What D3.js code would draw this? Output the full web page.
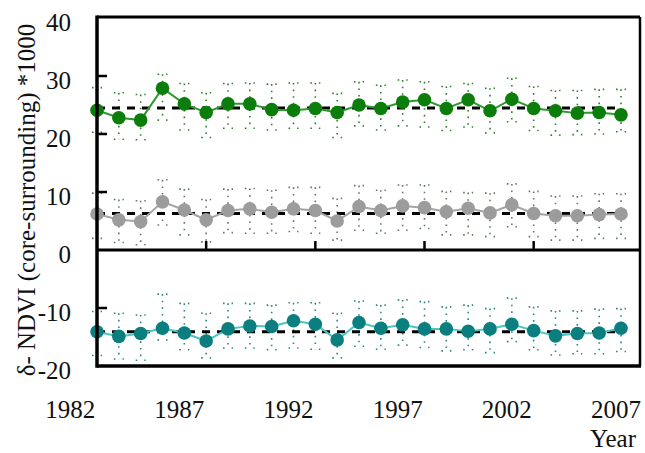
<!DOCTYPE html>
<html><head><meta charset="utf-8">
<script src="https://cdn.jsdelivr.net/npm/d3@7/dist/d3.min.js"></script>
<style>body{margin:0;background:#fff}svg{display:block}</style>
</head><body>
<svg id="c" width="645" height="453" font-family="'Liberation Serif', 'Times New Roman', 'DejaVu Serif', serif"></svg>
<script>
const years = d3.range(1983, 2008);
const yearLabels = [1982, 1987, 1992, 1997, 2002, 2007];
const yTicks = [-20, -10, 0, 10, 20, 30, 40];

const green = [24.1,22.8,22.4,27.9,25.2,23.7,25.2,25.2,24.2,24.1,24.4,23.7,25.0,24.4,25.5,25.9,24.4,25.9,24.0,26.0,24.4,24.0,23.6,23.7,23.3];
const greenHi = [28.0,27.1,26.8,30.3,28.7,27.1,28.7,28.8,28.6,28.8,28.8,27.0,29.0,28.4,29.3,29.0,28.2,28.7,27.9,29.6,28.2,27.5,27.5,27.7,27.7];
const greenLo = [20.3,19.1,19.0,22.4,20.7,19.4,21.0,21.0,20.7,21.0,21.0,19.4,21.4,20.7,21.4,21.2,20.6,21.2,20.2,22.1,20.6,19.8,19.9,20.0,20.4];
const greenMean = 24.5;

const gray = [6.2,5.2,4.9,8.3,6.9,5.2,6.8,7.1,6.5,7.1,6.8,5.0,7.5,6.8,7.6,7.3,6.6,7.2,6.4,7.8,6.3,5.9,5.9,6.1,6.2];
const grayHi = [9.8,8.7,8.5,12.1,10.5,8.7,10.5,10.6,10.3,10.8,10.8,8.9,11.1,10.3,11.2,11.2,10.1,9.9,9.8,11.4,10.1,9.3,9.3,9.7,9.7];
const grayLo = [2.0,1.3,0.9,4.3,2.6,1.4,3.0,2.9,2.9,3.2,2.9,1.7,3.4,2.9,3.4,3.7,2.6,2.6,2.3,4.0,2.3,1.7,1.7,2.0,2.0];
const grayMean = 6.3;

const teal = [-14.1,-14.9,-14.4,-13.5,-14.3,-15.7,-13.6,-13.1,-13.2,-12.2,-12.8,-15.5,-12.5,-13.5,-12.9,-13.6,-13.6,-14.0,-13.6,-12.8,-13.9,-14.8,-14.4,-14.3,-13.5];
const tealHi = [-10.6,-10.9,-11.2,-7.6,-9.2,-10.9,-9.2,-9.2,-9.5,-9.1,-9.1,-10.9,-8.8,-9.5,-8.6,-8.9,-9.8,-9.5,-10.1,-8.3,-9.8,-10.5,-10.5,-10.2,-10.1];
const tealLo = [-18.2,-18.8,-19.0,-15.5,-17.2,-18.6,-16.9,-16.9,-17.2,-16.9,-17.1,-18.6,-16.6,-17.1,-16.4,-16.8,-17.4,-17.2,-17.7,-15.8,-17.2,-18.1,-17.9,-17.9,-17.5];
const tealMean = -14.1;

const series = [
  {vals: green, hi: greenHi, lo: greenLo, mean: greenMean, dot: "#0a7d0a", line: "#2e9a2e", err: "#2f7f2f"},
  {vals: gray, hi: grayHi, lo: grayLo, mean: grayMean, dot: "#9c9c9c", line: "#a4a4a4", err: "#5f7a5f"},
  {vals: teal, hi: tealHi, lo: tealLo, mean: tealMean, dot: "#0b7f7f", line: "#49c6c2", err: "#2a8585"}
];

const svg = d3.select("#c");
const L = 97, R = 640, T = 17, B = 366;
const x = d3.scaleLinear().domain([1983, 2007]).range([97, 621]);
const y = d3.scaleLinear().domain([-20, 40]).range([366, 18]);

// error bars
series.forEach(s => {
  const g = svg.append("g");
  years.forEach((yr, i) => {
    const cx = x(yr);
    g.append("line").attr("x1", cx).attr("x2", cx).attr("y1", y(s.hi[i])).attr("y2", y(s.lo[i]))
      .attr("stroke", s.err).attr("stroke-width", 1.6).attr("stroke-dasharray", "1.6,5");
    [s.hi[i], s.lo[i]].forEach(v => {
      g.append("line").attr("x1", cx - 5).attr("x2", cx + 5).attr("y1", y(v)).attr("y2", y(v))
        .attr("stroke", s.err).attr("stroke-width", 1.6).attr("stroke-dasharray", "1.6,7");
    });
  });
});

// mean dashed lines
series.forEach(s => {
  svg.append("line").attr("x1", x(1983)).attr("x2", x(2007)).attr("y1", y(s.mean)).attr("y2", y(s.mean))
    .attr("stroke", "#000").attr("stroke-width", 3).attr("stroke-dasharray", "8,7");
});

// lines and points
const line = d3.line().x((d, i) => x(years[i])).y(d => y(d));
series.forEach(s => {
  svg.append("path").datum(s.vals).attr("d", line).attr("fill", "none")
    .attr("stroke", s.line).attr("stroke-width", 2);
  svg.append("g").selectAll("circle").data(s.vals).join("circle")
    .attr("cx", (d, i) => x(years[i])).attr("cy", d => y(d)).attr("r", 6.8).attr("fill", s.dot);
});

// frame
svg.append("line").attr("x1", L).attr("x2", R).attr("y1", T).attr("y2", T).attr("stroke", "#000").attr("stroke-width", 3);
svg.append("line").attr("x1", L).attr("x2", R + 1).attr("y1", B).attr("y2", B).attr("stroke", "#000").attr("stroke-width", 3.5);
svg.append("line").attr("x1", R).attr("x2", R).attr("y1", T).attr("y2", B).attr("stroke", "#000").attr("stroke-width", 2.5);
svg.append("line").attr("x1", L).attr("x2", L).attr("y1", T - 1.5).attr("y2", B + 1.7).attr("stroke", "#000").attr("stroke-width", 3.5);
svg.append("line").attr("x1", L).attr("x2", R).attr("y1", y(0)).attr("y2", y(0)).attr("stroke", "#000").attr("stroke-width", 3);

// y ticks (inside)
[30, 20, 10, -10].forEach(v => {
  svg.append("line").attr("x1", L).attr("x2", L + 10).attr("y1", y(v)).attr("y2", y(v)).attr("stroke", "#000").attr("stroke-width", 2.5);
});
// x ticks on zero line
[1988, 1993, 1998, 2003].forEach(yr => {
  svg.append("line").attr("x1", x(yr)).attr("x2", x(yr)).attr("y1", y(0)).attr("y2", y(0) - 9).attr("stroke", "#000").attr("stroke-width", 2.5);
});

// y tick labels
svg.append("g").selectAll("text").data(yTicks).join("text")
  .attr("x", 71).attr("y", d => y(d) + 4).attr("dy", "0.35em").attr("text-anchor", "end")
  .attr("font-size", 25).attr("fill", "#111").text(d => d);

// x labels
svg.append("g").selectAll("text").data(yearLabels).join("text")
  .attr("x", d => x(d) - 5).attr("y", 418).attr("text-anchor", "middle")
  .attr("font-size", 25).attr("fill", "#111").text(d => d);

svg.append("text").attr("x", 636).attr("y", 447).attr("text-anchor", "end").attr("font-size", 25).attr("fill", "#111").text("Year");

svg.append("text").attr("transform", "translate(35,200) rotate(-90)").attr("text-anchor", "middle")
  .attr("font-size", 25).attr("fill", "#111").text("δ- NDVI (core-surrounding) *1000");
</script>
</body></html>
